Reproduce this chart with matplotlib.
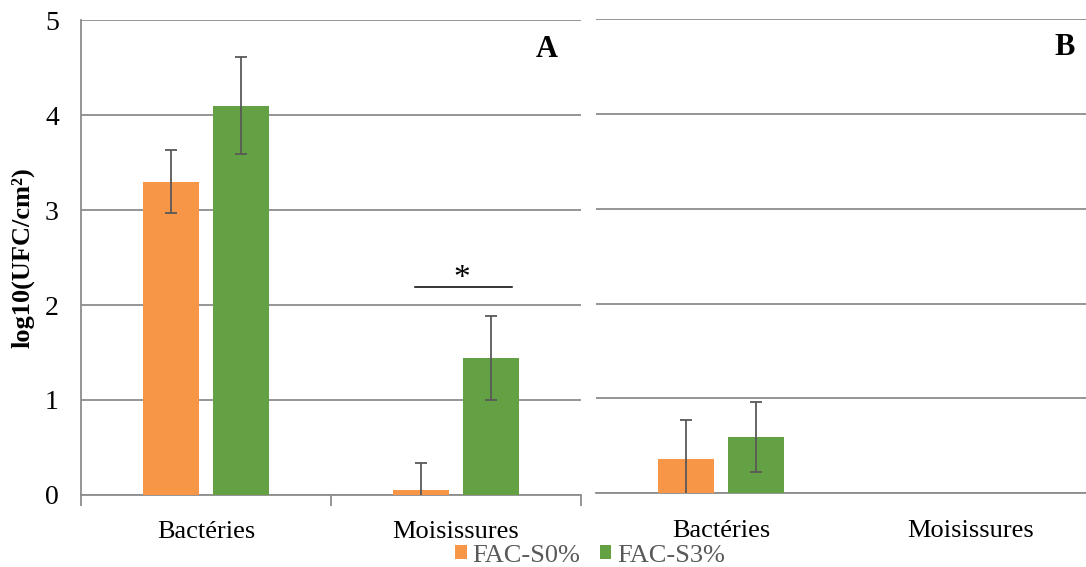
import matplotlib.pyplot as plt
import numpy as np

plt.rcParams['font.family'] = ['Liberation Serif', 'DejaVu Serif']

# Data
categories = ['Bactéries', 'Moisissures']
series_names = ['FAC-S0%', 'FAC-S3%']
# Panel A
a_s0 = [3.30, 0.05]
a_s0_err = [0.33, 0.29]
a_s3 = [4.10, 1.44]
a_s3_err = [0.51, 0.44]
# Panel B
b_s0 = [0.36, 0.0]
b_s0_err = [0.41, 0.0]
b_s3 = [0.59, 0.0]
b_s3_err = [0.37, 0.0]
y_ticks = [0, 1, 2, 3, 4, 5]

orange = '#F79646'
green = '#64A144'
grid_col = '#8C8C8C'
err_col = '#595959'

fig = plt.figure(figsize=(10.86, 5.67), dpi=100)
axA = fig.add_axes([0.0746, 0.127, 0.4604, 0.8377])
axB = fig.add_axes([0.5488, 0.130, 0.4512, 0.836])

x = np.arange(len(categories))
w = 0.224
off = 0.14


def draw(ax, s0, s0e, s3, s3e):
    ax.bar(x - off, s0, w, color=orange, label=series_names[0], zorder=3)
    ax.bar(x + off, s3, w, color=green, label=series_names[1], zorder=3)
    ekw = dict(fmt='none', ecolor=err_col, elinewidth=1.3, capsize=4.5,
               capthick=1.3, zorder=4)
    for xs, v, e in [(x - off, s0, s0e), (x + off, s3, s3e)]:
        keep = [i for i in range(len(v)) if e[i] > 0]
        ax.errorbar(xs[keep], np.array(v)[keep], yerr=np.array(e)[keep], **ekw)
    ax.set_ylim(0, 5)
    ax.set_yticks(y_ticks)
    ax.yaxis.grid(True, color=grid_col, linewidth=1.3, zorder=0)
    ax.set_axisbelow(True)
    for s in ['top', 'right']:
        ax.spines[s].set_visible(False)
    ax.set_xticks(x)
    ax.set_xticklabels(categories, fontsize=19)
    ax.tick_params(axis='x', length=0, pad=19)
    ax.tick_params(axis='y', length=0, labelsize=20, pad=16)


draw(axA, a_s0, a_s0_err, a_s3, a_s3_err)
axA.set_xlim(-0.5, 1.5)
axA.spines['left'].set_color(grid_col)
axA.spines['bottom'].set_color(grid_col)
axA.spines['left'].set_linewidth(1.3)
axA.spines['bottom'].set_linewidth(1.3)
axA.set_xticks([-0.5, 0.5, 1.5], minor=True)
axA.tick_params(axis='x', which='minor', length=8, width=1.3, color=grid_col)
axA.set_ylabel('log10(UFC/cm²)', fontsize=19, fontweight='bold')
axA.yaxis.set_label_coords(-0.094, 0.5)
axA.text(0.932, 0.937, 'A', transform=axA.transAxes, fontsize=22,
         fontweight='bold', ha='center', va='center')

# significance bar
axA.plot([1 - 0.164, 1 + 0.224], [2.19, 2.19], color='black', lw=1.1, zorder=5)
axA.text(1.024, 2.28, '*', fontsize=24, ha='center', va='center')

draw(axB, b_s0, b_s0_err, b_s3, b_s3_err)
axB.set_xlim(-0.5, 1.46)
axB.spines['left'].set_visible(False)
axB.spines['bottom'].set_color(grid_col)
axB.spines['bottom'].set_linewidth(1.3)
axB.set_yticklabels([])
axB.text(0.957, 0.94, 'B', transform=axB.transAxes, fontsize=22,
         fontweight='bold', ha='center', va='center')

handles, labels = axA.get_legend_handles_labels()
leg = fig.legend(handles, labels, loc='center', bbox_to_anchor=(0.543, 0.02),
                 ncol=2, frameon=False, fontsize=19, handlelength=0.45,
                 handleheight=0.45, handletextpad=0.2, columnspacing=0.75,
                 borderaxespad=0, borderpad=0)
for t in leg.get_texts():
    t.set_color('#595959')

fig.savefig('out.png', dpi=100)
